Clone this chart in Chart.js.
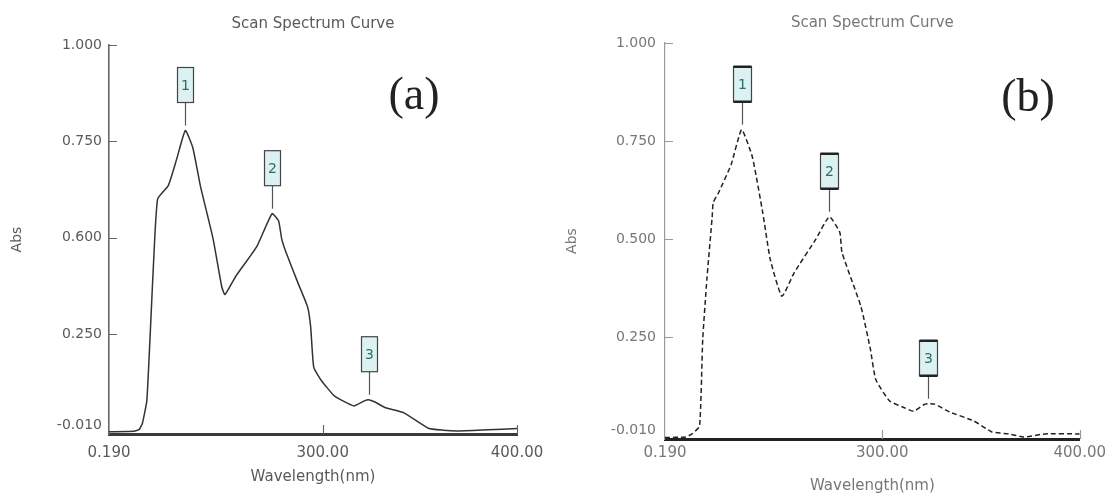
<!DOCTYPE html>
<html>
<head>
<meta charset="utf-8">
<script src="https://cdn.jsdelivr.net/npm/chart.js@4.4.1/dist/chart.umd.min.js"></script>
<style>
  html, body { margin: 0; padding: 0; background: #fff; }
  #wrap { position: relative; width: 1111px; height: 495px; overflow: hidden; }
  .pane { position: absolute; top: 0; height: 495px; }
  .tag { position: absolute; font-family: 'Liberation Serif', serif; font-size: 46px; line-height: 46px; color: #222; transform: translateX(-50%); }
</style>
</head>
<body>
<div id="wrap">
  <div class="pane" style="left:0;width:555px"><canvas id="chartA" width="555" height="495"></canvas></div>
  <div class="pane" style="left:555px;width:556px"><canvas id="chartB" width="556" height="495"></canvas></div>
  <div class="tag" style="left:414px;top:71px">(a)</div>
  <div class="tag" style="left:1028px;top:73px">(b)</div>
</div>
<script>
// spectrum (a)
const wavelengthA = [190, 202.8, 205.6, 207.2, 209.5, 212.7, 215.0, 220.5, 224.9, 229.3, 233.2, 237.0, 243.6, 248.0, 249.7,
  255.2, 266.2, 273.9, 277.3, 278.9, 281.1, 287.2, 292.2, 293.8, 295.4, 299.3, 306.0, 315.9, 321.4, 323.6, 326.9,
  332.4, 341.8, 354.4, 362.0, 369.4, 385.0, 400];
const absA = [-0.004, -0.003, 0.002, 0.018, 0.078, 0.41, 0.60, 0.635, 0.705, 0.778, 0.732, 0.635, 0.496, 0.373, 0.352,
  0.399, 0.478, 0.562, 0.543, 0.496, 0.462, 0.383, 0.320, 0.268, 0.163, 0.129, 0.089, 0.063, 0.076, 0.079, 0.073,
  0.058, 0.045, 0.005, 0.0, -0.002, 0.001, 0.004];
const peakWavelengthsA = [229.3, 273.9, 323.6];

// spectrum (b)
const wavelengthB = [190, 200.5, 203.7, 207.5, 209.1, 211.2, 213.9, 214.4, 217.1, 223.5, 228.8, 234.2, 239.5, 243.3, 249.2,
  255.5, 266.3, 273.2, 278.5, 279.6, 289.2, 294.0, 296.7, 303.7, 310.6, 315.9, 321.3, 323.4, 326.6, 334.1, 346.4,
  355.5, 364.1, 371.5, 382.5, 400];
const absB = [-0.006, -0.005, 0.003, 0.023, 0.244, 0.397, 0.557, 0.593, 0.618, 0.690, 0.779, 0.710, 0.567, 0.448, 0.354,
  0.415, 0.499, 0.557, 0.517, 0.466, 0.328, 0.219, 0.142, 0.087, 0.071, 0.061, 0.078, 0.080, 0.079, 0.059, 0.036,
  0.008, 0.003, -0.005, 0.003, 0.003];
const peakWavelengthsB = [228.8, 273.2, 323.4];

const peakLabels = ['1', '2', '3'];
const xTickValues = [190, 300, 400];
const xTickLabels = ['0.190', '300.00', '400.00'];
const yTickValues = [-0.010, 0.25, 0.5, 0.75, 1.0];
const yTickLabelsA = ['-0.010', '0.250', '0.600', '0.750', '1.000'];
const yTickLabelsB = ['-0.010', '0.250', '0.500', '0.750', '1.000'];

// boxed peak numbers above the picked peaks
const peakMarks = {
  id: 'peakMarks',
  afterDatasetsDraw(chart, args, opts) {
    const { ctx, scales: { x, y } } = chart;
    const pts = chart.data.datasets[0].data;
    ctx.save();
    opts.peaks.forEach((wl, i) => {
      const pt = pts.find(p => p.x === wl);
      if (!pt) return;
      const px = Math.round(x.getPixelForValue(pt.x)) + 0.5;
      const py = y.getPixelForValue(pt.y);
      const w = opts.boxWidth, h = 35;
      const bottom = py - 28, top = bottom - h;
      ctx.strokeStyle = '#555';
      ctx.lineWidth = 1.2;
      ctx.beginPath();
      ctx.moveTo(px, bottom);
      ctx.lineTo(px, py - 5);
      ctx.stroke();
      ctx.fillStyle = '#dcf2f2';
      ctx.fillRect(px - w / 2, top, w, h);
      ctx.strokeStyle = '#444';
      ctx.strokeRect(px - w / 2, top, w, h);
      if (opts.thickEdges) {
        ctx.lineWidth = 2.5;
        ctx.strokeStyle = '#222';
        ctx.beginPath();
        ctx.moveTo(px - w / 2, top); ctx.lineTo(px + w / 2, top);
        ctx.moveTo(px - w / 2, bottom); ctx.lineTo(px + w / 2, bottom);
        ctx.stroke();
      }
      ctx.fillStyle = '#2f6b6b';
      ctx.font = '14px "DejaVu Sans"';
      ctx.textAlign = 'center';
      ctx.textBaseline = 'middle';
      ctx.fillText(peakLabels[i], px, top + h / 2 + 1);
    });
    ctx.restore();
  }
};

// tick marks pointing into the plot
const inwardTicks = {
  id: 'inwardTicks',
  afterDraw(chart, args, opts) {
    const { ctx, chartArea: a, scales: { x, y } } = chart;
    ctx.save();
    ctx.lineWidth = 1.2;
    ctx.strokeStyle = opts.color;
    ctx.beginPath();
    x.ticks.forEach(t => {
      if (t.value === x.min) return;
      const px = Math.round(x.getPixelForValue(t.value)) + 0.5;
      ctx.moveTo(px, a.bottom);
      ctx.lineTo(px, a.bottom - 9);
    });
    y.ticks.forEach(t => {
      if (t.value === y.min) return;
      const py = Math.round(y.getPixelForValue(t.value)) + 0.5;
      ctx.moveTo(a.left, py);
      ctx.lineTo(a.left + 8, py);
    });
    ctx.stroke();
    ctx.restore();
  }
};

function spectrumChart(id, xs, ys, peaks, yLabels, st) {
  const font = size => ({ family: 'DejaVu Sans', size, weight: 'normal' });
  return new Chart(document.getElementById(id), {
    type: 'line',
    data: {
      datasets: [{
        data: xs.map((x, i) => ({ x, y: ys[i] })),
        borderColor: st.line,
        borderWidth: 1.5,
        borderDash: st.dash,
        pointRadius: 0,
        tension: 0.15,
        fill: false,
      }],
    },
    options: {
      responsive: false,
      animation: false,
      layout: { autoPadding: false, padding: { left: 0, right: st.padRight, top: 0, bottom: 0 } },
      plugins: {
        legend: { display: false },
        tooltip: { enabled: false },
        title: {
          display: true,
          text: 'Scan Spectrum Curve',
          fullSize: false,
          color: st.text,
          font: font(15),
          padding: st.titlePad,
        },
        peakMarks: { peaks, boxWidth: st.boxWidth, thickEdges: st.thickEdges },
        inwardTicks: { color: st.yAxis },
      },
      scales: {
        x: {
          type: 'linear',
          min: 190,
          max: 400,
          afterBuildTicks: s => { s.ticks = xTickValues.map(v => ({ value: v })); },
          afterFit: s => { s.height = st.xHeight; },
          ticks: {
            autoSkip: false,
            maxRotation: 0,
            padding: st.xTickPad,
            color: st.text,
            font: font(15),
            callback: (v, i) => xTickLabels[i],
          },
          grid: { display: false, drawTicks: false },
          border: { color: st.xAxis, width: 3 },
          title: {
            display: true,
            text: 'Wavelength(nm)',
            color: st.text,
            font: font(15),
            padding: { top: 0, bottom: st.xTitlePad },
          },
        },
        y: {
          type: 'linear',
          min: -0.010,
          max: 1.0,
          afterBuildTicks: s => { s.ticks = yTickValues.map(v => ({ value: v })); },
          afterFit: s => { s.width = st.yWidth; },
          ticks: {
            autoSkip: false,
            padding: st.yTickPad,
            color: st.text,
            font: font(14),
            // the bottom label sits a little above the axis line, as in the original
            callback: (v, i) => (i === 0 ? [yLabels[i], ''] : yLabels[i]),
          },
          grid: { display: false, drawTicks: false },
          border: { color: st.yAxis, width: st.yAxisWidth },
          title: {
            display: true,
            text: 'Abs',
            color: st.text,
            font: font(14),
            padding: { top: 9, bottom: 0 },
          },
        },
      },
    },
    plugins: [peakMarks, inwardTicks],
  });
}

spectrumChart('chartA', wavelengthA, absA, peakWavelengthsA, yTickLabelsA, {
  line: '#333', dash: [], text: '#5a5a5a', xAxis: '#3a3a3a', yAxis: '#666', yAxisWidth: 1.6,
  padRight: 38, titlePad: { top: 15, bottom: 12 }, yWidth: 109, xHeight: 61,
  xTickPad: 10, yTickPad: 7, xTitlePad: 9, boxWidth: 16, thickEdges: false,
});

spectrumChart('chartB', wavelengthB, absB, peakWavelengthsB, yTickLabelsB, {
  line: '#222', dash: [5, 3], text: '#777', xAxis: '#222', yAxis: '#9a9a9a', yAxisWidth: 1.2,
  padRight: 25, titlePad: { top: 14, bottom: 11 }, yWidth: 110, xHeight: 56,
  xTickPad: 5, yTickPad: 9, xTitlePad: 0, boxWidth: 18, thickEdges: true,
});
</script>
</body>
</html>
